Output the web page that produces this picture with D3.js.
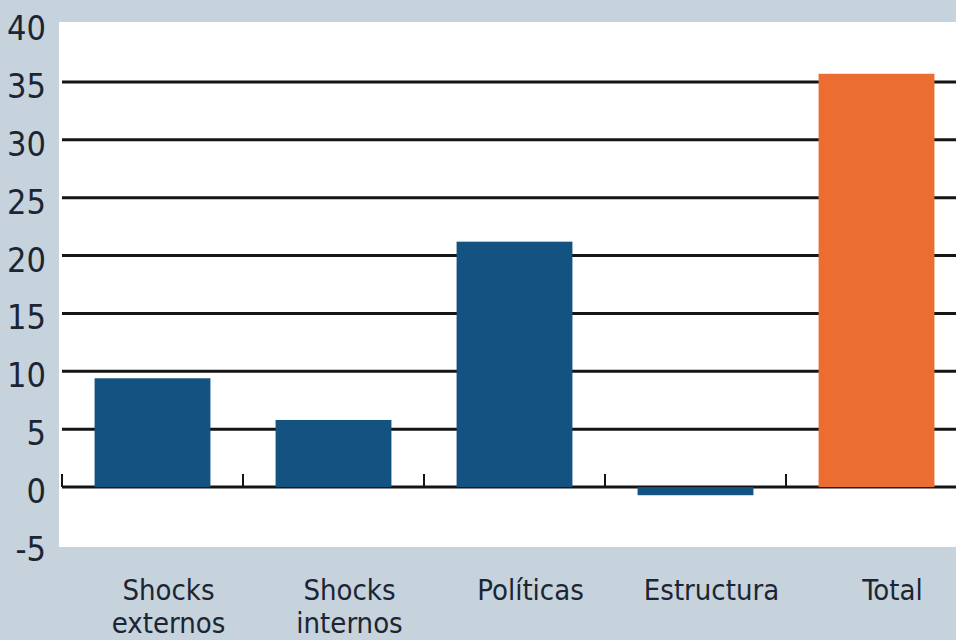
<!DOCTYPE html>
<html lang="es">
<head>
<meta charset="UTF-8">
<title>Contribuciones</title>
<script src="https://d3js.org/d3.v7.min.js"></script>
<style>
  body {margin: 0; background: #c6d2dc;}
  svg {display: block;}
  text {font-family: "Liberation Sans Narrow", "DejaVu Sans Condensed", sans-serif; fill: #1b2533;}
</style>
</head>
<body>
<svg id="chart" width="956" height="640"></svg>
<script>
const categories = ["Shocks externos", "Shocks internos", "Políticas", "Estructura", "Total"];
const values = [9.4, 5.8, 21.2, -0.7, 35.7];
const yTicks = [-5, 0, 5, 10, 15, 20, 25, 30, 35, 40];
const gridTicks = [5, 10, 15, 20, 25, 30, 35];

const svg = d3.select("#chart");

// white plotting panel
svg.append("rect")
    .attr("x", 59).attr("y", 22)
    .attr("width", 897).attr("height", 525)
    .attr("fill", "#ffffff");

let y = d3.scaleLinear().domain([-5, 40]).range([545, 24]);
let x = d3.scaleBand().domain(categories).range([62, 967]);
let barW = x.step() * 0.64;

// grid lines
svg.append("g").selectAll("line")
    .data(gridTicks)
    .join("line")
    .attr("x1", 62).attr("x2", 956)
    .attr("y1", d => y(d)).attr("y2", d => y(d))
    .attr("stroke", "#151515")
    .attr("stroke-width", 3);

// zero line with tick marks
svg.append("line")
    .attr("x1", 62).attr("x2", 956)
    .attr("y1", y(0)).attr("y2", y(0))
    .attr("stroke", "#151515").attr("stroke-width", 3);

svg.append("g").selectAll("line")
    .data(categories)
    .join("line")
    .attr("x1", d => x(d)).attr("x2", d => x(d))
    .attr("y1", y(0)).attr("y2", y(0) - 13)
    .attr("stroke", "#151515").attr("stroke-width", 2);

// bars
svg.append("g").selectAll("rect")
    .data(values)
    .join("rect")
    .attr("x", (d, i) => x(categories[i]) + (x.step() - barW) / 2)
    .attr("width", barW)
    .attr("y", d => y(Math.max(0, d)))
    .attr("height", d => Math.abs(y(d) - y(0)))
    .attr("fill", (d, i) => i === categories.length - 1 ? "#ec6d31" : "#145282");

// y axis labels
svg.append("g").selectAll("text")
    .data(yTicks)
    .join("text")
    .attr("x", 46)
    .attr("y", d => y(d) + 16)
    .attr("text-anchor", "end")
    .attr("font-size", 34)
    .text(d => d);

// x labels, broken on two lines
let xl = svg.append("g").selectAll("text")
    .data(categories)
    .join("text")
    .attr("x", d => x(d) + x.step() / 2 + 16)
    .attr("y", 600)
    .attr("text-anchor", "middle")
    .attr("font-size", 29);

xl.each(function (d) {
    let words = d.split(" ");
    let t = d3.select(this);
    words.forEach((w, i) => {
        t.append("tspan")
            .attr("x", t.attr("x"))
            .attr("dy", i === 0 ? 0 : 33)
            .text(w);
    });
});
</script>
</body>
</html>
